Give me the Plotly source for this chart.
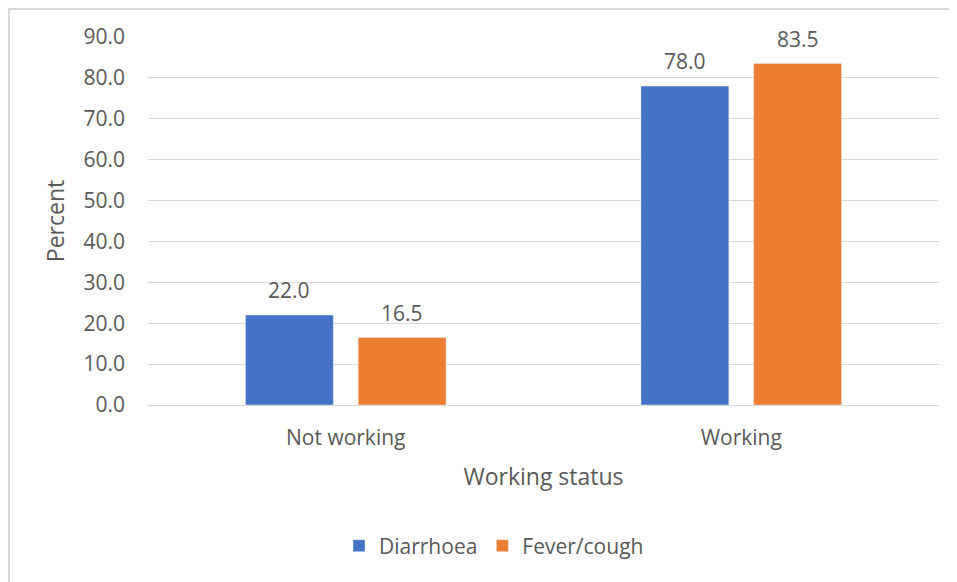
"""Bar chart of working status by illness type, Excel-like styling."""

import plotly.graph_objs as go

# Data
categories = ['Not working', 'Working']
diarrhoea = [22.0, 78.0]
fever_cough = [16.5, 83.5]
y_ticks = [0, 10, 20, 30, 40, 50, 60, 70, 80, 90]

# Layout geometry (pixels); page body adds an 8px offset
OFF = 8
W, H = 957, 582
L, R, T, B = 140, 26, 29, 185
plot_w = W - L - R
plot_h = H - T - B
BARGAP = 0.43
BARGROUPGAP = 0.22

font_family = 'Open Sans, Noto Sans, sans-serif'
gray = '#595959'

figure = go.Figure()
figure.add_trace(go.Bar(x=categories, y=diarrhoea, name='Diarrhoea',
                        marker={'color': '#4472C4'}))
figure.add_trace(go.Bar(x=categories, y=fever_cough, name='Fever/cough',
                        marker={'color': '#ED7D31'}))


def px_x(p):
    return (p - OFF - L) / plot_w


def px_y(p):
    return (T + plot_h - (p - OFF)) / plot_h


# Data labels placed at each bar's centre through the x axis
slot = (1 - BARGAP) / 2
annotations = []
for series, sign in ((diarrhoea, -1), (fever_cough, 1)):
    for i, v in enumerate(series):
        annotations.append({
            'x': i + sign * slot / 2, 'y': v, 'xref': 'x', 'yref': 'y',
            'text': f'{v:.1f}', 'showarrow': False, 'yanchor': 'bottom',
            'yshift': 9, 'font': {'size': 21, 'color': gray},
        })

figure.update_layout(
    width=W, height=H,
    margin={'l': L, 'r': R, 't': T, 'b': B},
    paper_bgcolor='white', plot_bgcolor='white',
    font={'family': font_family, 'color': gray, 'size': 21},
    barmode='group', bargap=BARGAP, bargroupgap=BARGROUPGAP,
    xaxis={
        'title': {'text': 'Working status', 'font': {'size': 23}, 'standoff': 18},
        'showline': False, 'ticks': '', 'tickfont': {'size': 21},
        'ticklabelstandoff': 18,
    },
    yaxis={
        'title': {'text': 'Percent', 'font': {'size': 23}, 'standoff': 12},
        'range': [0, 90], 'tickvals': y_ticks,
        'ticktext': [f'{v:.1f}' for v in y_ticks],
        'showgrid': True, 'gridcolor': '#D9D9D9', 'gridwidth': 1,
        'zeroline': True, 'zerolinecolor': '#D9D9D9', 'zerolinewidth': 1,
        'tickfont': {'size': 21}, 'ticklabelstandoff': 22,
    },
    legend={
        'orientation': 'h', 'x': px_x(494), 'xanchor': 'center',
        'y': px_y(546), 'yanchor': 'middle',
        'font': {'size': 21}, 'itemwidth': 30,
    },
    showlegend=True,
    annotations=annotations,
    shapes=[{
        'type': 'rect', 'xref': 'paper', 'yref': 'paper',
        'x0': px_x(9), 'x1': px_x(980), 'y0': px_y(600), 'y1': px_y(9),
        'line': {'color': '#D9D9D9', 'width': 2}, 'layer': 'below',
    }],
)

figure.write_html('out.html')
